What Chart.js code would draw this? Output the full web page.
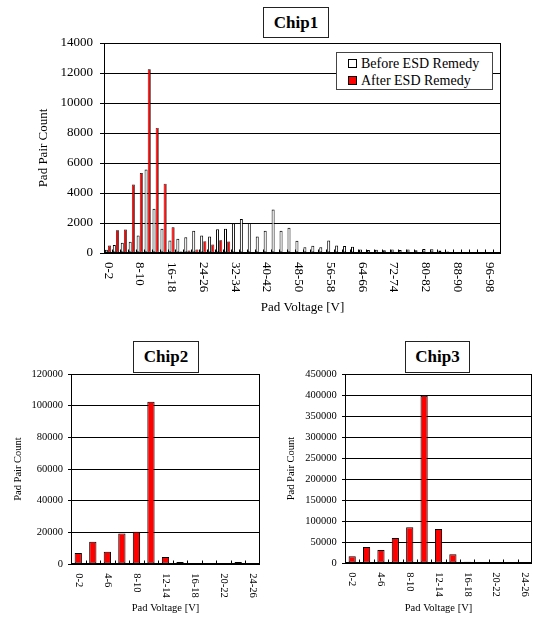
<!DOCTYPE html>
<html>
<head>
<meta charset="utf-8">
<title>Pad Voltage Histograms</title>
<script src="https://cdn.jsdelivr.net/npm/chart.js@4.4.1/dist/chart.umd.min.js"></script>
<style>
  body { margin: 0; background: #fff; width: 533px; height: 617px; position: relative; overflow: hidden;
         font-family: 'Liberation Serif', 'Times New Roman', serif; }
  canvas { position: absolute; }
  .chipTitle { position: absolute; border: 1px solid #222; background: #fff; box-sizing: border-box;
               text-align: center; font-weight: bold; font-size: 17px; }
  #legend { position: absolute; left: 336px; top: 52px; width: 157px; height: 38px; box-sizing: border-box;
            border: 1px solid #444; background: #fff; padding: 2px 0 0 11px; font-size: 14px; line-height: 17px; }
  #legend .sw { display: inline-block; width: 9px; height: 9px; border: 1px solid #000; box-sizing: border-box;
                margin-right: 4px; vertical-align: 0px; }
</style>
</head>
<body>

<canvas id="chip1" width="533" height="320" style="left:0;top:0"></canvas>
<canvas id="chip2" width="270" height="287" style="left:0;top:330px"></canvas>
<canvas id="chip3" width="263" height="287" style="left:270px;top:330px"></canvas>

<div class="chipTitle" style="left:263px;top:7px;width:66px;height:31px;line-height:29px">Chip1</div>
<div class="chipTitle" style="left:133px;top:341px;width:66px;height:32px;line-height:30px">Chip2</div>
<div class="chipTitle" style="left:405px;top:341px;width:65px;height:32px;line-height:30px">Chip3</div>

<div id="legend">
  <div><span class="sw" style="background:#fff"></span>Before ESD Remedy</div>
  <div><span class="sw" style="background:#ff0000"></span>After ESD Remedy</div>
</div>

<script>
/* =====================
   DATA
===================== */

const chip1Labels = [
  '0-2', '2-4', '4-6', '6-8', '8-10', '10-12', '12-14', '14-16', '16-18', '18-20',
  '20-22', '22-24', '24-26', '26-28', '28-30', '30-32', '32-34', '34-36', '36-38', '38-40',
  '40-42', '42-44', '44-46', '46-48', '48-50', '50-52', '52-54', '54-56', '56-58', '58-60',
  '60-62', '62-64', '64-66', '66-68', '68-70', '70-72', '72-74', '74-76', '76-78', '78-80',
  '80-82', '82-84', '84-86', '86-88', '88-90', '90-92', '92-94', '94-96', '96-98', '98-100'
];

const chip1Before = [
  210, 540, 690, 750, 1160, 5560, 2950, 1620, 830, 950,
  1050, 1480, 1160, 1100, 1580, 1620, 1990, 2260, 2000, 1100,
  1480, 2900, 1490, 1680, 810, 390, 480, 390, 840, 500,
  470, 410, 230, 200, 210, 190, 240, 200, 230, 180,
  260, 250, 170, 100, 0, 0, 0, 0, 0, 0
];

const chip1After = [
  500, 1520, 1560, 4560, 5330, 12250, 8340, 4610, 1720, 100,
  170, 230, 790, 570, 850, 770, 80, 0, 0, 0,
  0, 0, 0, 0, 0, 0, 0, 0, 0, 0,
  0, 0, 0, 0, 0, 0, 0, 0, 0, 0,
  0, 0, 0, 0, 0, 0, 0, 0, 0, 0
];

const smallChipLabels = [
  '0-2', '2-4', '4-6', '6-8', '8-10', '10-12', '12-14',
  '14-16', '16-18', '18-20', '20-22', '22-24', '24-26'
];

const chip2Counts = [7000, 14100, 7800, 19200, 20400, 102500, 4400, 1300, 0, 0, 0, 1300, 0];

const chip3Counts = [15800, 38000, 30900, 59300, 85400, 398000, 80700, 20600, 3200, 2400, 2400, 2400, 0];


/* =====================
   PLUGINS
===================== */

// x labels read top to bottom (clockwise), which Chart.js ticks can't do
const rotatedLabels = {
  id: 'rotatedLabels',
  afterDraw(chart, args, opts) {
    const xs = chart.scales.x;
    const ctx = chart.ctx;
    ctx.save();
    ctx.font = opts.font;
    ctx.fillStyle = '#000';
    ctx.textAlign = 'left';
    ctx.textBaseline = 'middle';
    chart.data.labels.forEach((lab, i) => {
      if (i % opts.every !== 0) return;
      ctx.save();
      ctx.translate(xs.getPixelForValue(i), xs.top + opts.gap);
      ctx.rotate(Math.PI / 2);
      ctx.fillText(lab, 0, 0);
      ctx.restore();
    });
    ctx.restore();
  }
};

// plot box plus small inward ticks between categories
const plotFrame = {
  id: 'plotFrame',
  afterDraw(chart) {
    const a = chart.chartArea;
    const xs = chart.scales.x;
    const ctx = chart.ctx;
    const l = Math.round(a.left) + 0.5, r = Math.round(a.right) - 0.5;
    const t = Math.round(a.top) + 0.5, b = Math.round(a.bottom) - 0.5;
    ctx.save();
    ctx.strokeStyle = '#000';
    ctx.lineWidth = 1;
    ctx.strokeRect(l, t, r - l, b - t);
    const n = chart.data.labels.length;
    const step = xs.getPixelForValue(1) - xs.getPixelForValue(0);
    ctx.beginPath();
    for (let i = 1; i < n; i++) {
      const px = Math.round(xs.getPixelForValue(i) - step / 2) + 0.5;
      ctx.moveTo(px, b);
      ctx.lineTo(px, b - 3);
    }
    ctx.stroke();
    ctx.restore();
  }
};


/* =====================
   CREATE CHARTS
===================== */

Chart.defaults.font.family = "'Liberation Serif', 'Times New Roman', serif";
Chart.defaults.color = '#000';

function makeHistogram(id, labels, datasets, o) {
  return new Chart(document.getElementById(id), {
    type: 'bar',
    data: { labels: labels, datasets: datasets },
    options: {
      responsive: false,
      animation: false,
      devicePixelRatio: 1,
      layout: { padding: o.padding },
      plugins: {
        legend: { display: false },
        tooltip: { enabled: false },
        rotatedLabels: { every: o.every, gap: o.gap, font: o.tickSize + "px 'Liberation Serif'" }
      },
      scales: {
        x: {
          grid: { display: false },
          border: { display: false },
          ticks: { display: false },
          title: {
            display: true, text: 'Pad Voltage [V]', color: '#000',
            font: { size: o.titleSize },
            padding: { top: 0, bottom: o.xTitlePad }
          },
          afterFit: s => { s.height = o.xHeight; }
        },
        y: {
          min: 0,
          max: o.max,
          ticks: {
            stepSize: o.step,
            color: '#000',
            padding: o.tickPad,
            font: { size: o.tickSize },
            callback: v => String(v)
          },
          grid: { color: '#000', lineWidth: 1, tickLength: o.tickLen, tickColor: '#000' },
          border: { color: '#000' },
          title: {
            display: true, text: 'Pad Pair Count', color: '#000',
            font: { size: o.titleSize },
            padding: { top: o.yTitlePad, bottom: 0 }
          },
          afterFit: s => { s.width = o.yWidth; }
        }
      }
    },
    plugins: [rotatedLabels, plotFrame]
  });
}

const chart1 = makeHistogram('chip1', chip1Labels, [
  {
    label: 'Before ESD Remedy', data: chip1Before,
    backgroundColor: '#ffffff', borderColor: '#000', borderWidth: 1, borderSkipped: false,
    categoryPercentage: 0.8, barPercentage: 0.95
  },
  {
    label: 'After ESD Remedy', data: chip1After,
    backgroundColor: '#ff0000', borderColor: '#000', borderWidth: 0.7, borderSkipped: false,
    categoryPercentage: 0.8, barPercentage: 0.95
  }
], {
  padding: { top: 43, right: 32, bottom: 0, left: 0 },
  max: 14000, step: 2000,
  yWidth: 104, xHeight: 67,
  tickSize: 13, titleSize: 13, tickLen: 4, tickPad: 7,
  yTitlePad: 35.5, xTitlePad: 4.2,
  every: 4, gap: 9
});

const chart2 = makeHistogram('chip2', smallChipLabels, [
  {
    label: 'Chip2', data: chip2Counts,
    backgroundColor: '#ff0000', borderColor: '#000', borderWidth: 1, borderSkipped: false,
    categoryPercentage: 1, barPercentage: 0.5
  }
], {
  padding: { top: 44, right: 10, bottom: 0, left: 0 },
  max: 120000, step: 20000,
  yWidth: 71, xHeight: 53,
  tickSize: 10.5, titleSize: 10.5, tickLen: 3, tickPad: 5,
  yTitlePad: 12, xTitlePad: 2.7,
  every: 2, gap: 9.3
});

const chart3 = makeHistogram('chip3', smallChipLabels, [
  {
    label: 'Chip3', data: chip3Counts,
    backgroundColor: '#ff0000', borderColor: '#000', borderWidth: 1, borderSkipped: false,
    categoryPercentage: 1, barPercentage: 0.5
  }
], {
  padding: { top: 44, right: 1, bottom: 0, left: 0 },
  max: 450000, step: 50000,
  yWidth: 75, xHeight: 54,
  tickSize: 10.5, titleSize: 10.5, tickLen: 3, tickPad: 5.3,
  yTitlePad: 15.4, xTitlePad: 2.7,
  every: 2, gap: 9.3
});
</script>
</body>
</html>
